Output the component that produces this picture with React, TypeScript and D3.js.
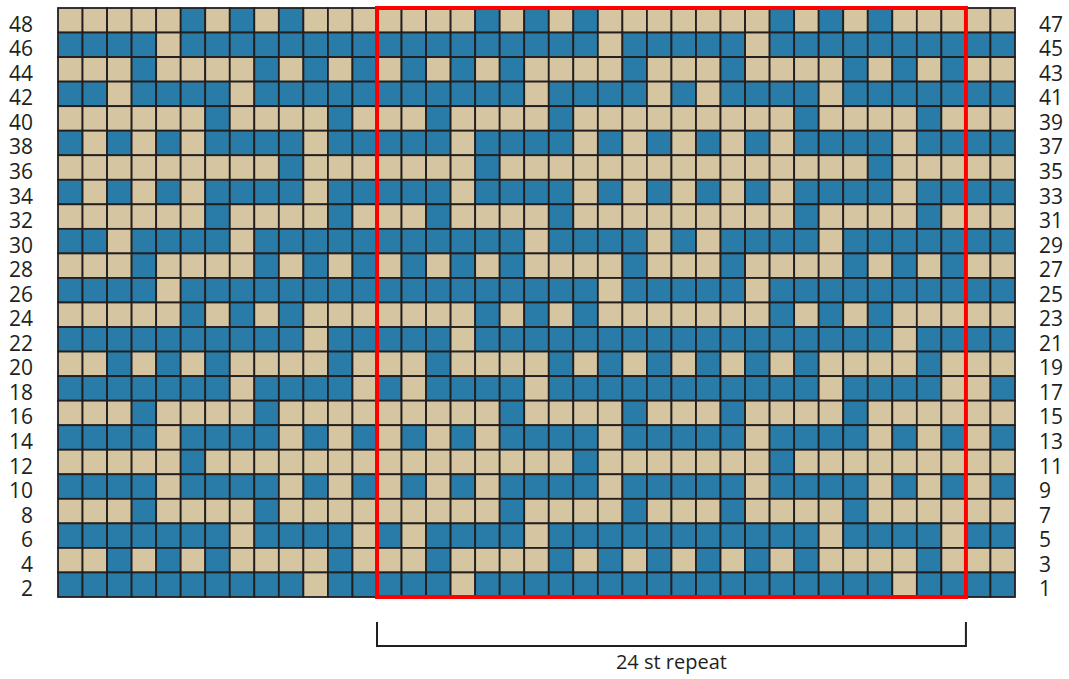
import * as React from 'react';
import {scaleBand, select as d3Select} from 'd3';

// T = tan (background), B = blue (contrast). Top row first (rows 48/47).
const chartRows: string[] = [
  'TTTTTBTBTBTTT' + 'TTTTBTBTBTTTTTTTBTBTBTTT' + 'TT',
  'BBBBTBBBBBBBB' + 'BBBBBBBBBTBBBBBTBBBBBBBB' + 'BB',
  'TTTBTTTTBTBTB' + 'TBTBTBTTTTBTTTBTTTTBTBTB' + 'TT',
  'BBTBBBBTBBBBB' + 'BBBBBBTBBBBTBTBBBBTBBBBB' + 'BB',
  'TTTTTTBTTTTBT' + 'TTBTTTTBTTTTTTTTTBTTTTBT' + 'TT',
  'BTBTBTBBBBTBB' + 'BBBTBBBBTBTBTBTBTBBBBTBB' + 'BB',
  'TTTTTTTTTBTTT' + 'TTTTBTTTTTTTTTTTTTTTBTTT' + 'TT',
  'BTBTBTBBBBTBB' + 'BBBTBBBBTBTBTBTBTBBBBTBB' + 'BB',
  'TTTTTTBTTTTBT' + 'TTBTTTTBTTTTTTTTTBTTTTBT' + 'TT',
  'BBTBBBBTBBBBB' + 'BBBBBBTBBBBTBTBBBBTBBBBB' + 'BB',
  'TTTBTTTTBTBTB' + 'TBTBTBTTTTBTTTBTTTTBTBTB' + 'TT',
  'BBBBTBBBBBBBB' + 'BBBBBBBBBTBBBBBTBBBBBBBB' + 'BB',
  'TTTTTBTBTBTTT' + 'TTTTBTBTBTTTTTTTBTBTBTTT' + 'TT',
  'BBBBBBBBBBTBB' + 'BBBTBBBBBBBBBBBBBBBBBTBB' + 'BB',
  'TTBTBTBTTTTBT' + 'TTBTTTTBTBTBTBTBTBTTTTBT' + 'TT',
  'BBBBBBBTBBBBT' + 'BTBBBBTBBBBBBBBBBBTBBBBT' + 'TB',
  'TTTBTTTTBTTTT' + 'TTTTTBTTTTBTTTBTTTTBTTTT' + 'TT',
  'BBBBTBBBBTBTB' + 'TBTBTBBBBTBBBBBTBBBBTBTB' + 'TB',
  'TTTTTBTTTTTTT' + 'TTTTTTTTBTTTTTTTBTTTTTTT' + 'TT',
  'BBBBTBBBBTBTB' + 'TBTBTBBBBTBBBBBTBBBBTBTB' + 'TB',
  'TTTBTTTTBTTTT' + 'TTTTTBTTTTBTTTBTTTTBTTTT' + 'TT',
  'BBBBBBBTBBBBT' + 'BTBBBBTBBBBBBBBBBBTBBBBT' + 'BB',
  'TTBTBTBTTTTBT' + 'TTBTTTTBTBTBTBTBTBTTTTBT' + 'TT',
  'BBBBBBBBBBTBB' + 'BBBTBBBBBBBBBBBBBBBBBTBB' + 'BB',
];

const leftLabels = ['48', '46', '44', '42', '40', '38', '36', '34', '32', '30', '28', '26',
  '24', '22', '20', '18', '16', '14', '12', '10', '8', '6', '4', '2'];
const rightLabels = ['47', '45', '43', '41', '39', '37', '35', '33', '31', '29', '27', '25',
  '23', '21', '19', '17', '15', '13', '11', '9', '7', '5', '3', '1'];

const repeatFirstCol = 13;
const repeatLastCol = 36;
const repeatLabel = '24 st repeat';

const colors: {[k: string]: string} = {T: '#d5c6a1', B: '#2a7ca8'};

export default function App() {
  const svgRef = React.useRef<SVGSVGElement>(null);

  React.useEffect(() => {
    const svg = d3Select(svgRef.current);
    svg.selectAll('*').remove();

    const nCols = chartRows[0].length;
    const x = scaleBand<number>()
      .domain(Array.from({length: nCols}, (_, i) => i))
      .range([58, 1015]);
    const y = scaleBand<number>()
      .domain(chartRows.map((_, i) => i))
      .range([8, 597]);
    const cw = x.bandwidth();
    const rh = y.bandwidth();

    const cells = chartRows.flatMap((row, r) =>
      row.split('').map((c, col) => ({r, col, c})));

    svg.append('g')
      .selectAll('rect')
      .data(cells)
      .enter()
      .append('rect')
      .attr('x', (d) => x(d.col)!)
      .attr('y', (d) => y(d.r)!)
      .attr('width', cw)
      .attr('height', rh)
      .attr('fill', (d) => colors[d.c])
      .attr('stroke', '#231f20')
      .attr('stroke-width', 1.8);

    // Row numbers
    const font = '"Open Sans", sans-serif';
    svg.append('g')
      .selectAll('text')
      .data(leftLabels)
      .enter()
      .append('text')
      .attr('x', 33)
      .attr('y', (_, i) => y(i)! + rh / 2 + 11.5)
      .attr('text-anchor', 'end')
      .style('font-family', font)
      .style('font-size', '21px')
      .attr('fill', '#231f20')
      .text((d) => d);

    svg.append('g')
      .selectAll('text')
      .data(rightLabels)
      .enter()
      .append('text')
      .attr('x', 1039)
      .attr('y', (_, i) => y(i)! + rh / 2 + 11.5)
      .attr('text-anchor', 'start')
      .style('font-family', font)
      .style('font-size', '21px')
      .attr('fill', '#231f20')
      .text((d) => d);

    // Repeat box
    const rx0 = x(repeatFirstCol)!;
    const rx1 = x(repeatLastCol)! + cw;
    svg.append('rect')
      .attr('x', rx0)
      .attr('y', y(0)!)
      .attr('width', rx1 - rx0)
      .attr('height', y(chartRows.length - 1)! + rh - y(0)!)
      .attr('fill', 'none')
      .attr('stroke', '#ff0000')
      .attr('stroke-width', 4);

    // Bracket below
    svg.append('path')
      .attr('d', `M${rx0},622V646H${rx1}V622`)
      .attr('fill', 'none')
      .attr('stroke', '#231f20')
      .attr('stroke-width', 2);

    svg.append('text')
      .attr('x', (rx0 + rx1) / 2)
      .attr('y', 669)
      .attr('text-anchor', 'middle')
      .style('font-family', font)
      .style('font-size', '20px')
      .attr('fill', '#231f20')
      .text(repeatLabel);
  }, []);

  return <svg ref={svgRef} width={1069} height={679}
    style={{position: 'absolute', left: 0, top: 0, background: '#fff'}} />;
}
